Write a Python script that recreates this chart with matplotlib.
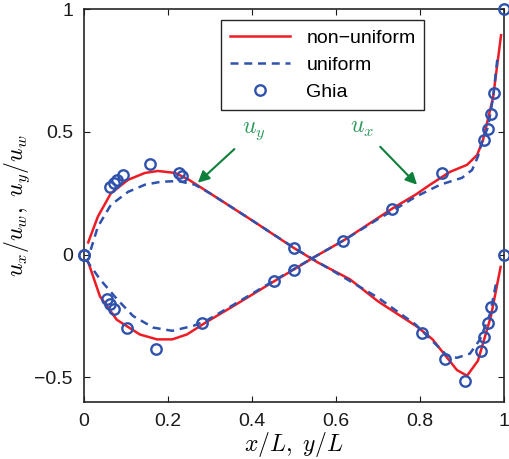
import matplotlib
matplotlib.use("Agg")
import matplotlib.pyplot as plt
import numpy as np

plt.rcParams['font.family'] = ['Liberation Sans', 'DejaVu Sans']
plt.rcParams['mathtext.fontset'] = 'cm'

# Ghia et al. reference data (Re = 1000)
ghia_ux_pos = [0.0, 0.0547, 0.0625, 0.0703, 0.1016, 0.1719, 0.2813, 0.4531, 0.5,
               0.6172, 0.7344, 0.8516, 0.9531, 0.9609, 0.9688, 0.9766, 1.0]
ghia_ux_val = [0.0, -0.18109, -0.20196, -0.22220, -0.29730, -0.38289, -0.27805,
               -0.10648, -0.06080, 0.05702, 0.18719, 0.33304, 0.46604, 0.51117,
               0.57492, 0.65928, 1.0]
ghia_uy_pos = [0.0, 0.0625, 0.0703, 0.0781, 0.0938, 0.1563, 0.2266, 0.2344, 0.5,
               0.8047, 0.8594, 0.9063, 0.9453, 0.9531, 0.9609, 0.9688, 1.0]
ghia_uy_val = [0.0, 0.27485, 0.29012, 0.30353, 0.32627, 0.37095, 0.33075, 0.32235,
               0.02526, -0.31966, -0.42665, -0.51550, -0.39188, -0.33714, -0.27669,
               -0.21388, 0.0]

# non-uniform grid results
nu_ux_pos = [0.01, 0.038, 0.078, 0.133, 0.174, 0.21, 0.245, 0.29, 0.355, 0.453, 0.5,
             0.546, 0.62, 0.736, 0.79, 0.824, 0.871, 0.912, 0.936, 0.95, 0.974, 0.993]
nu_ux_val = [-0.03, -0.17, -0.265, -0.325, -0.345, -0.345, -0.325, -0.276, -0.21,
             -0.108, -0.06, -0.012, 0.06, 0.19, 0.245, 0.285, 0.337, 0.366, 0.406,
             0.467, 0.64, 0.894]
nu_uy_pos = [0.01, 0.033, 0.064, 0.105, 0.145, 0.176, 0.217, 0.25, 0.30, 0.40, 0.50,
             0.555, 0.633, 0.70, 0.793, 0.83, 0.888, 0.912, 0.938, 0.969, 0.992]
nu_uy_val = [0.05, 0.155, 0.25, 0.305, 0.333, 0.341, 0.333, 0.305, 0.25, 0.14, 0.027,
             -0.03, -0.10, -0.19, -0.293, -0.345, -0.47, -0.493, -0.432, -0.25, -0.05]

# uniform grid results
un_ux_pos = [0.005, 0.038, 0.078, 0.117, 0.165, 0.21, 0.26, 0.29, 0.355, 0.453, 0.5,
             0.546, 0.62, 0.70, 0.736, 0.79, 0.848, 0.90, 0.924, 0.938, 0.947, 0.962,
             0.974, 0.985]
un_ux_val = [-0.02, -0.10, -0.18, -0.25, -0.297, -0.31, -0.29, -0.27, -0.205, -0.105,
             -0.058, -0.012, 0.06, 0.145, 0.18, 0.236, 0.285, 0.313, 0.345, 0.40,
             0.455, 0.52, 0.64, 0.81]
un_uy_pos = [0.016, 0.033, 0.064, 0.105, 0.145, 0.183, 0.224, 0.264, 0.30, 0.40, 0.50,
             0.555, 0.70, 0.79, 0.864, 0.888, 0.919, 0.943, 0.967, 0.983]
un_uy_val = [0.02, 0.114, 0.203, 0.256, 0.285, 0.297, 0.30, 0.285, 0.25, 0.14, 0.028,
             -0.028, -0.175, -0.285, -0.41, -0.42, -0.403, -0.345, -0.24, -0.10]

x_ticks = [0, 0.2, 0.4, 0.6, 0.8, 1]
x_tick_labels = ['0', '0.2', '0.4', '0.6', '0.8', '1']
y_ticks = [-0.5, 0, 0.5, 1]
y_tick_labels = ['\u22120.5', '0', '0.5', '1']

red = '#ee1c25'
blue = '#2f52ad'
green_arrow = '#0f7f3c'
green_text = '#2e9a5c'

fig = plt.figure(figsize=(5.10, 4.59), dpi=100)
ax = fig.add_axes([0.1647, 0.1242, 0.8235, 0.8558])

lw = 1.8
dash = (0, (3.2, 2.3))
ax.plot(nu_ux_pos, nu_ux_val, color=red, lw=lw, label='non\u2212uniform')
ax.plot(un_ux_pos, un_ux_val, color=blue, lw=lw, ls=dash, label='uniform')
ax.plot(ghia_ux_pos, ghia_ux_val, ls='none', marker='o', ms=7.5, mfc='none',
        mec=blue, mew=1.7, clip_on=False, label='Ghia', zorder=5)
ax.plot(nu_uy_pos, nu_uy_val, color=red, lw=lw)
ax.plot(un_uy_pos, un_uy_val, color=blue, lw=lw, ls=dash)
ax.plot(ghia_uy_pos, ghia_uy_val, ls='none', marker='o', ms=7.5, mfc='none',
        mec=blue, mew=1.7, clip_on=False, zorder=5)

ax.set_xlim(0, 1)
ax.set_ylim(-0.6, 1)
ax.set_xticks(x_ticks)
ax.set_xticklabels(x_tick_labels)
ax.set_yticks(y_ticks)
ax.set_yticklabels(y_tick_labels)
ax.tick_params(direction='in', length=4, width=0.8, top=True, right=True,
               labelsize=14, colors='#1a1a1a', pad=8)
for s in ax.spines.values():
    s.set_linewidth(1.2)
    s.set_color('#262626')

ax.set_xlabel('$x/L,\\ y/L$', fontsize=17, labelpad=0)
ax.set_ylabel('$u_x/u_w,\\ u_y/u_w$', fontsize=17, labelpad=2)

ax.annotate('$u_y$', xy=(0.271, 0.293), xytext=(0.405, 0.504), color=green_text,
            fontsize=17, ha='center', va='center',
            arrowprops=dict(arrowstyle='-|>', color=green_arrow, lw=1.5,
                            mutation_scale=17, shrinkA=5, shrinkB=0))
ax.annotate('$u_x$', xy=(0.793, 0.285), xytext=(0.662, 0.516), color=green_text,
            fontsize=17, ha='center', va='center',
            arrowprops=dict(arrowstyle='-|>', color=green_arrow, lw=1.5,
                            mutation_scale=17, shrinkA=5, shrinkB=0))

leg = ax.legend(loc='upper left', bbox_to_anchor=(0.326, 0.972), borderaxespad=0,
                fontsize=14, handlelength=3.1, labelspacing=0.5, fancybox=False,
                framealpha=1, edgecolor='#262626', borderpad=0.45, handletextpad=0.85)
leg.get_frame().set_linewidth(1.0)

fig.savefig('out.png', dpi=100)
